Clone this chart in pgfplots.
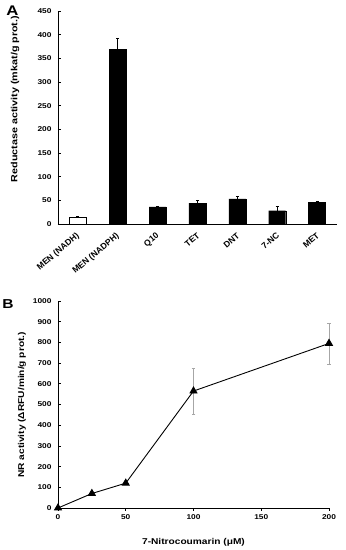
\documentclass[border=0pt]{standalone}
\usepackage{graphicx}
\usepackage{fontspec}
\setmainfont{Liberation Sans}[FakeStretch=1.2]
\newfontfamily\plainsans{Liberation Sans}
\usepackage{pgfplots}
\pgfplotsset{compat=1.18}
\begin{document}
\begin{tikzpicture}
\useasboundingbox (0,0) rectangle (346bp,550bp);
\node[font=\bfseries\fontsize{14}{14}\selectfont] at (12.5bp,539.5bp) {A};
\node[font=\bfseries\fontsize{13}{13}\selectfont] at (8bp,246bp) {B};
% Panel A
\begin{axis}[
  at={(58bp,326bp)}, anchor=south west,
  scale only axis, width=279bp, height=213bp,
  xmin=-0.5, xmax=6.5, ymin=0, ymax=450,
  axis x line*=bottom, axis y line*=left,
  axis line style={line width=0.9pt, -},
  xtick=\empty,
  ytick={0,50,...,450},
  tick align=inside, major tick length=2.5bp,
  y tick style={line width=0.6pt, black},
  yticklabel style={font=\bfseries\fontsize{7}{8}\selectfont, xshift=-3bp},
  /pgf/number format/assume math mode=true,
  ylabel={Reductase activity (mkat/g prot.)},
  ylabel style={at={(axis description cs:-0.154,0.587)}, anchor=center, font=\bfseries\fontsize{9}{10}\selectfont},
  clip=false,
]
\addplot[ybar, bar width=17bp, bar shift=0pt, fill=white, draw=black, line width=0.7pt,
  error bars/.cd, y dir=plus, y explicit,
  error bar style={black, line width=0.6pt}, error mark options={rotate=90, mark size=1.5pt, black}]
  coordinates {(0,14) +- (0,2)};
\addplot[ybar, bar width=17bp, bar shift=0pt, fill=black, draw=black,
  error bars/.cd, y dir=plus, y explicit,
  error bar style={black, line width=0.6pt}, error mark options={rotate=90, mark size=1.5pt, black}]
  coordinates {(1,369) +- (0,23) (2,36) +- (0,2) (3,44) +- (0,6) (4,53) +- (0,6) (5,28) +- (0,9) (6,45) +- (0,3)};
\begin{scope}[every node/.style={anchor=north east, inner sep=0pt, font=\plainsans\bfseries\fontsize{8.6}{9}\selectfont}]
\node at ([yshift=-8bp,xshift=3bp]axis cs:0,0) {\rotatebox{40}{MEN (NADH)}};
\node at ([yshift=-8bp,xshift=3bp]axis cs:1,0) {\rotatebox{40}{MEN (NADPH)}};
\node at ([yshift=-8bp,xshift=3bp]axis cs:2,0) {\rotatebox{40}{Q10}};
\node at ([yshift=-8bp,xshift=3bp]axis cs:3,0) {\rotatebox{40}{TET}};
\node at ([yshift=-8bp,xshift=3bp]axis cs:4,0) {\rotatebox{40}{DNT}};
\node at ([yshift=-8bp,xshift=3bp]axis cs:5,0) {\rotatebox{40}{7-NC}};
\node at ([yshift=-8bp,xshift=3bp]axis cs:6,0) {\rotatebox{40}{MET}};
\end{scope}
\end{axis}
% Panel B
\begin{axis}[
  at={(58bp,42bp)}, anchor=south west,
  scale only axis, width=271bp, height=207bp,
  xmin=0, xmax=200, ymin=0, ymax=1000,
  axis x line*=bottom, axis y line*=left,
  axis line style={line width=0.9pt, -},
  xtick={0,50,...,200}, ytick={0,100,...,1000},
  x tick style={line width=0.6pt, black},
  y tick style={line width=0.6pt, black},
  xtick align=outside, ytick align=inside, major tick length=2.5bp,
  xticklabel style={font=\bfseries\fontsize{7}{8}\selectfont, yshift=-1bp},
  yticklabel style={font=\bfseries\fontsize{7}{8}\selectfont, xshift=-3bp},
  /pgf/number format/assume math mode=true,
  /pgf/number format/1000 sep={},
  xlabel={7-Nitrocoumarin (μM)},
  xlabel style={at={(axis description cs:0.5,-0.165)}, anchor=center, font=\bfseries\fontsize{8.5}{10}\selectfont},
  ylabel={NR activity (ΔRFU/min/g prot.)},
  ylabel style={at={(axis description cs:-0.133,0.498)}, anchor=center, font=\bfseries\fontsize{8.5}{10}\selectfont},
  clip=false,
]
\addplot[black, line width=0.9pt, mark=triangle*, mark size=4pt, mark options={fill=black},
  error bars/.cd, y dir=both, y explicit,
  error bar style={gray!70, line width=0.5pt}, error mark options={rotate=90, mark size=2pt, gray!70}]
  coordinates {(0,0) +- (0,0) (25,70) +- (0,0) (50,120) +- (0,0) (100,565) +- (0,110) (200,795) +- (0,100)};
\end{axis}
\end{tikzpicture}
\end{document}
